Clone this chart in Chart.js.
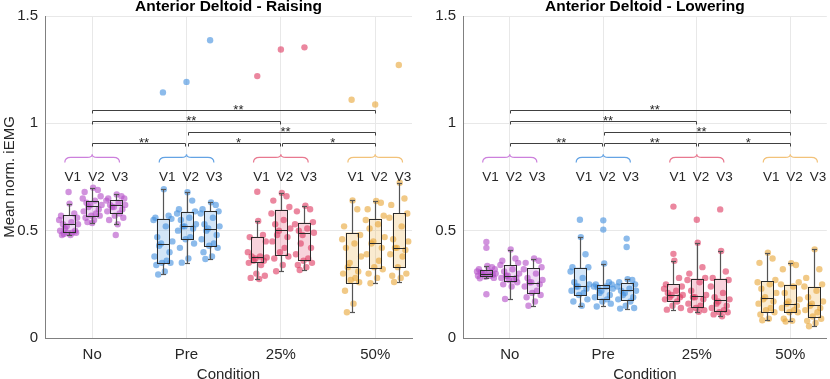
<!DOCTYPE html>
<html>
<head>
<meta charset="utf-8">
<script src="https://cdn.jsdelivr.net/npm/chart.js@4"></script>
<style>
  html, body { margin: 0; padding: 0; background: #fff; width: 830px; height: 379px; overflow: hidden; }
  #wrapL { position: absolute; left: 0; top: 0; }
  #wrapR { position: absolute; left: 420px; top: 0; }
</style>
</head>
<body>
<div id="wrapL"><canvas id="raise" width="420" height="379"></canvas></div>
<div id="wrapR"><canvas id="lower" width="410" height="379"></canvas></div>
<script>
// ---------- Data ----------
const conditions = ["No", "Pre", "25%", "50%"];
const visits = ["V1", "V2", "V3"];
const yTicks = [0, 0.5, 1, 1.5];

// groups in order: No V1..V3, Pre V1..V3, 25% V1..V3, 50% V1..V3
// box stats: [whisker low, q1, median, q3, whisker high]
const raiseBox = [
  [0.48, 0.492, 0.53, 0.572, 0.626], [0.536, 0.57, 0.617, 0.64, 0.70], [0.53, 0.584, 0.618, 0.641, 0.669],
  [0.296, 0.349, 0.438, 0.556, 0.693], [0.351, 0.459, 0.523, 0.588, 0.679], [0.368, 0.429, 0.51, 0.591, 0.632],
  [0.275, 0.352, 0.376, 0.471, 0.545], [0.311, 0.388, 0.501, 0.597, 0.676], [0.317, 0.363, 0.491, 0.537, 0.616],
  [0.12, 0.258, 0.333, 0.491, 0.641], [0.255, 0.325, 0.444, 0.555, 0.638], [0.261, 0.329, 0.418, 0.581, 0.723]
];
const raiseOut = [[0.68], [], [0.48], [1.144], [1.193], [1.387], [1.22, 0.681], [1.344], [1.354], [1.11], [1.088], [1.272]];
const raisePts = [
  [0.626, 0.58, 0.57, 0.56, 0.55, 0.54, 0.53, 0.53, 0.52, 0.51, 0.50, 0.50, 0.49, 0.49, 0.49, 0.48, 0.48, 0.485],
  [0.70, 0.69, 0.68, 0.66, 0.65, 0.64, 0.63, 0.62, 0.62, 0.61, 0.60, 0.59, 0.58, 0.57, 0.57, 0.56, 0.55, 0.54, 0.536],
  [0.669, 0.66, 0.65, 0.65, 0.64, 0.63, 0.62, 0.62, 0.61, 0.61, 0.60, 0.59, 0.58, 0.57, 0.56, 0.55, 0.53],
  [0.693, 0.57, 0.56, 0.555, 0.55, 0.52, 0.47, 0.45, 0.44, 0.43, 0.40, 0.38, 0.36, 0.35, 0.35, 0.34, 0.31, 0.296],
  [0.679, 0.64, 0.60, 0.59, 0.58, 0.56, 0.55, 0.53, 0.52, 0.52, 0.51, 0.50, 0.47, 0.46, 0.44, 0.42, 0.37, 0.351],
  [0.632, 0.62, 0.60, 0.59, 0.58, 0.56, 0.53, 0.52, 0.51, 0.50, 0.48, 0.46, 0.44, 0.43, 0.42, 0.40, 0.38, 0.368],
  [0.545, 0.48, 0.47, 0.45, 0.40, 0.38, 0.38, 0.375, 0.37, 0.36, 0.36, 0.35, 0.34, 0.30, 0.29, 0.28, 0.275],
  [0.676, 0.66, 0.64, 0.61, 0.58, 0.55, 0.53, 0.51, 0.50, 0.48, 0.47, 0.45, 0.42, 0.40, 0.38, 0.37, 0.34, 0.311],
  [0.616, 0.60, 0.59, 0.54, 0.53, 0.51, 0.50, 0.49, 0.48, 0.44, 0.42, 0.39, 0.37, 0.36, 0.35, 0.34, 0.33, 0.317],
  [0.641, 0.60, 0.52, 0.48, 0.46, 0.44, 0.42, 0.38, 0.35, 0.33, 0.31, 0.30, 0.28, 0.27, 0.26, 0.22, 0.16, 0.12],
  [0.638, 0.63, 0.60, 0.57, 0.55, 0.53, 0.51, 0.47, 0.45, 0.44, 0.42, 0.39, 0.36, 0.33, 0.32, 0.30, 0.28, 0.255],
  [0.723, 0.65, 0.62, 0.58, 0.56, 0.52, 0.46, 0.45, 0.42, 0.42, 0.41, 0.39, 0.38, 0.33, 0.30, 0.29, 0.28, 0.261]
];

const lowerBox = [
  [0.278, 0.29, 0.30, 0.318, 0.336], [0.182, 0.266, 0.287, 0.338, 0.412], [0.15, 0.211, 0.258, 0.324, 0.37],
  [0.15, 0.20, 0.243, 0.328, 0.47], [0.147, 0.181, 0.233, 0.246, 0.347], [0.137, 0.175, 0.222, 0.254, 0.274],
  [0.132, 0.171, 0.202, 0.25, 0.36], [0.122, 0.143, 0.195, 0.277, 0.444], [0.101, 0.126, 0.175, 0.277, 0.405],
  [0.083, 0.123, 0.187, 0.264, 0.397], [0.077, 0.119, 0.157, 0.249, 0.348], [0.055, 0.098, 0.153, 0.238, 0.413]
];
const lowerOut = [[0.447, 0.42, 0.204], [], [], [0.551], [0.548, 0.505], [0.463, 0.424], [0.612, 0.392], [0.551], [0.599], [], [], []];
const lowerPts = [
  [0.336, 0.33, 0.32, 0.32, 0.31, 0.31, 0.305, 0.30, 0.30, 0.30, 0.295, 0.29, 0.29, 0.285, 0.28, 0.278],
  [0.412, 0.37, 0.36, 0.35, 0.34, 0.32, 0.31, 0.30, 0.29, 0.29, 0.28, 0.28, 0.27, 0.27, 0.26, 0.25, 0.24, 0.182],
  [0.37, 0.36, 0.35, 0.33, 0.32, 0.30, 0.28, 0.27, 0.26, 0.26, 0.25, 0.24, 0.22, 0.21, 0.20, 0.19, 0.17, 0.15],
  [0.47, 0.39, 0.33, 0.33, 0.31, 0.28, 0.26, 0.25, 0.24, 0.24, 0.23, 0.22, 0.21, 0.20, 0.18, 0.17, 0.15],
  [0.347, 0.26, 0.25, 0.25, 0.24, 0.24, 0.235, 0.23, 0.22, 0.21, 0.20, 0.19, 0.18, 0.17, 0.16, 0.147],
  [0.274, 0.27, 0.26, 0.25, 0.24, 0.23, 0.22, 0.22, 0.21, 0.20, 0.19, 0.18, 0.17, 0.15, 0.14, 0.137],
  [0.36, 0.28, 0.25, 0.24, 0.23, 0.22, 0.21, 0.20, 0.20, 0.19, 0.19, 0.18, 0.17, 0.15, 0.14, 0.132],
  [0.444, 0.33, 0.30, 0.28, 0.27, 0.26, 0.22, 0.20, 0.19, 0.19, 0.18, 0.16, 0.15, 0.14, 0.13, 0.13, 0.122],
  [0.405, 0.31, 0.28, 0.27, 0.24, 0.21, 0.19, 0.18, 0.17, 0.16, 0.15, 0.14, 0.13, 0.12, 0.12, 0.11, 0.101],
  [0.397, 0.37, 0.35, 0.27, 0.26, 0.25, 0.23, 0.21, 0.19, 0.18, 0.17, 0.16, 0.14, 0.13, 0.12, 0.11, 0.09, 0.083],
  [0.348, 0.34, 0.32, 0.26, 0.25, 0.24, 0.21, 0.18, 0.17, 0.16, 0.15, 0.14, 0.13, 0.12, 0.12, 0.09, 0.08, 0.077],
  [0.413, 0.32, 0.28, 0.25, 0.24, 0.22, 0.19, 0.17, 0.16, 0.15, 0.14, 0.13, 0.12, 0.10, 0.09, 0.08, 0.07, 0.055]
];

// horizontal spread of the swarm points, in category units
const jitter = [0.01, 0.06, -0.08, 0.09, -0.10, 0.03, -0.06, 0.10, -0.02, -0.04, 0.07, -0.09, 0.04, -0.01, 0.08, -0.07, 0.02, -0.05, 0.00];

// significance pairs (condition index 1..4) and their stars
const sigPairs = [[1, 4], [1, 3], [2, 4], [1, 2], [2, 3], [3, 4]];
const raiseStars = ["**", "**", "**", "**", "*", "*"];
const lowerStars = ["**", "**", "**", "**", "**", "*"];

// ---------- Style ----------
const FONT = "'Liberation Sans', Arial, Helvetica, sans-serif";
const pointColors = ["rgba(180,80,200,0.62)", "rgba(70,145,222,0.62)", "rgba(222,62,100,0.62)", "rgba(232,168,60,0.62)"];
const boxFills = ["rgba(190,110,210,0.24)", "rgba(80,150,225,0.25)", "rgba(228,80,115,0.25)", "rgba(236,176,72,0.26)"];
const braceColors = ["#cc80dc", "#64a3e4", "#e8788f", "#f2c27a"];
const sigLevels = [1.062, 1.009, 0.958, 0.907, 0.907, 0.907];

const groupX = i => Math.floor(i / 3) + 1 + (i % 3 - 1) * 0.25;

function line(ctx, x1, y1, x2, y2) {
  ctx.beginPath();
  ctx.moveTo(x1, y1);
  ctx.lineTo(x2, y2);
  ctx.stroke();
}

// ---------- Overlay: boxes, braces, labels, brackets, titles ----------
const overlay = {
  id: "overlay",
  afterDatasetsDraw(chart, args, o) {
    const { ctx, chartArea: area, scales: { x, y } } = chart;
    const px = v => Math.round(x.getPixelForValue(v)) + 0.5;
    const py = v => Math.round(y.getPixelForValue(v)) + 0.5;
    ctx.save();

    // box outlines, medians, whiskers
    o.box.forEach((b, i) => {
      const cx = px(groupX(i));
      const [wl, q1, md, q3, wh] = b.map(py);
      ctx.strokeStyle = "#555";
      ctx.lineWidth = 1.2;
      line(ctx, cx, q3, cx, wh);
      line(ctx, cx, q1, cx, wl);
      line(ctx, cx - 2.5, wh, cx + 2.5, wh);
      line(ctx, cx - 2.5, wl, cx + 2.5, wl);
      ctx.strokeStyle = "#2b2b2b";
      ctx.lineWidth = 1;
      ctx.strokeRect(cx - 6, q3, 12, q1 - q3);
      line(ctx, cx - 6, md, cx + 6, md);
    });

    // braces over each condition
    conditions.forEach((c, k) => {
      const cx = x.getPixelForValue(k + 1);
      const xl = x.getPixelForValue(k + 0.71), xr = x.getPixelForValue(k + 1.29);
      const ya = y.getPixelForValue(0.817), ym = y.getPixelForValue(0.841), yt = y.getPixelForValue(0.856);
      ctx.strokeStyle = braceColors[k];
      ctx.lineWidth = 1.2;
      ctx.beginPath();
      ctx.moveTo(xl, ya);
      ctx.quadraticCurveTo(xl, ym, xl + 6, ym);
      ctx.lineTo(cx - 5, ym);
      ctx.quadraticCurveTo(cx, ym, cx, yt);
      ctx.quadraticCurveTo(cx, ym, cx + 5, ym);
      ctx.lineTo(xr - 6, ym);
      ctx.quadraticCurveTo(xr, ym, xr, ya);
      ctx.stroke();
    });

    // visit labels
    ctx.fillStyle = "#262626";
    ctx.font = `13.5px ${FONT}`;
    ctx.textAlign = "center";
    ctx.textBaseline = "middle";
    o.box.forEach((b, i) => {
      ctx.fillText(visits[i % 3], x.getPixelForValue(groupX(i) + 0.045), y.getPixelForValue(0.748));
    });

    // significance brackets
    ctx.strokeStyle = "#404040";
    ctx.lineWidth = 1;
    ctx.font = `13px ${FONT}`;
    ctx.textBaseline = "alphabetic";
    sigPairs.forEach(([a, b], k) => {
      const x1 = px(a + (a > 1 ? 0.012 : 0)), x2 = px(b - (b < 4 ? 0.012 : 0));
      const yl = py(sigLevels[k]);
      ctx.beginPath();
      ctx.moveTo(x1, yl + 3);
      ctx.lineTo(x1, yl);
      ctx.lineTo(x2, yl);
      ctx.lineTo(x2, yl + 3);
      ctx.stroke();
      ctx.fillText(o.stars[k], x.getPixelForValue((a + b) / 2 + 0.05), yl + 3);
    });

    // panel title
    const mid = (area.left + area.right) / 2;
    ctx.fillStyle = "#000";
    ctx.font = `bold 15.5px ${FONT}`;
    ctx.fillText(o.title, mid, 11);

    // axis titles
    ctx.fillStyle = "#262626";
    ctx.font = `15px ${FONT}`;
    ctx.fillText("Condition", mid, 378.5);
    if (o.yTitle) {
      ctx.translate(14, (area.top + area.bottom) / 2);
      ctx.rotate(-Math.PI / 2);
      ctx.fillText(o.yTitle, 0, 0);
    }
    ctx.restore();
  }
};

// ---------- Charts ----------
function makeChart(id, title, box, out, pts, stars, yTitle, yWidth, padRight) {
  const boxData = box.map((b, i) => ({ x: groupX(i), y: [b[1], b[3]] }));
  const pointSets = conditions.map((c, k) => {
    const data = [];
    for (let g = k * 3; g < k * 3 + 3; g++) {
      pts[g].forEach((v, j) => data.push({ x: groupX(g) + jitter[j % jitter.length], y: v }));
      out[g].forEach(v => data.push({ x: groupX(g), y: v }));
    }
    return {
      type: "scatter", data, order: 1,
      backgroundColor: pointColors[k], borderWidth: 0,
      pointRadius: 3.2, pointHoverRadius: 3.2
    };
  });

  return new Chart(document.getElementById(id), {
    type: "bar",
    data: {
      datasets: [
        {
          type: "bar", data: boxData, order: 2,
          backgroundColor: box.map((b, i) => boxFills[Math.floor(i / 3)]),
          borderWidth: 0, barThickness: 12, grouped: false
        },
        ...pointSets
      ]
    },
    options: {
      responsive: false,
      animation: false,
      layout: { padding: { top: 15, right: padRight, left: 0, bottom: 0 } },
      plugins: {
        legend: { display: false },
        tooltip: { enabled: false },
        overlay: { title, box, stars, yTitle }
      },
      scales: {
        x: {
          type: "linear", min: 0.5, max: 4.39, offset: false,
          afterBuildTicks: s => { s.ticks = conditions.map((c, i) => ({ value: i + 1 })); },
          afterFit: s => { s.height = 41; },
          grid: { color: "#e8e8e8", drawTicks: false, offset: false },
          border: { color: "#808080" },
          ticks: {
            callback: v => conditions[v - 1], color: "#262626", padding: 8,
            maxRotation: 0, autoSkip: false, font: { family: FONT, size: 15 }
          }
        },
        y: {
          min: 0, max: 1.5,
          afterBuildTicks: s => { s.ticks = yTicks.map(v => ({ value: v })); },
          afterFit: s => { s.width = yWidth; },
          grid: { color: "#e8e8e8", drawTicks: false },
          border: { color: "#808080" },
          ticks: { callback: v => String(v), color: "#262626", padding: 7, font: { family: FONT, size: 15 } }
        }
      }
    },
    plugins: [overlay]
  });
}

makeChart("raise", "Anterior Deltoid - Raising", raiseBox, raiseOut, raisePts, raiseStars, "Mean norm. iEMG", 45, 8);
makeChart("lower", "Anterior Deltoid - Lowering", lowerBox, lowerOut, lowerPts, lowerStars, null, 43, 0);
</script>
</body>
</html>
